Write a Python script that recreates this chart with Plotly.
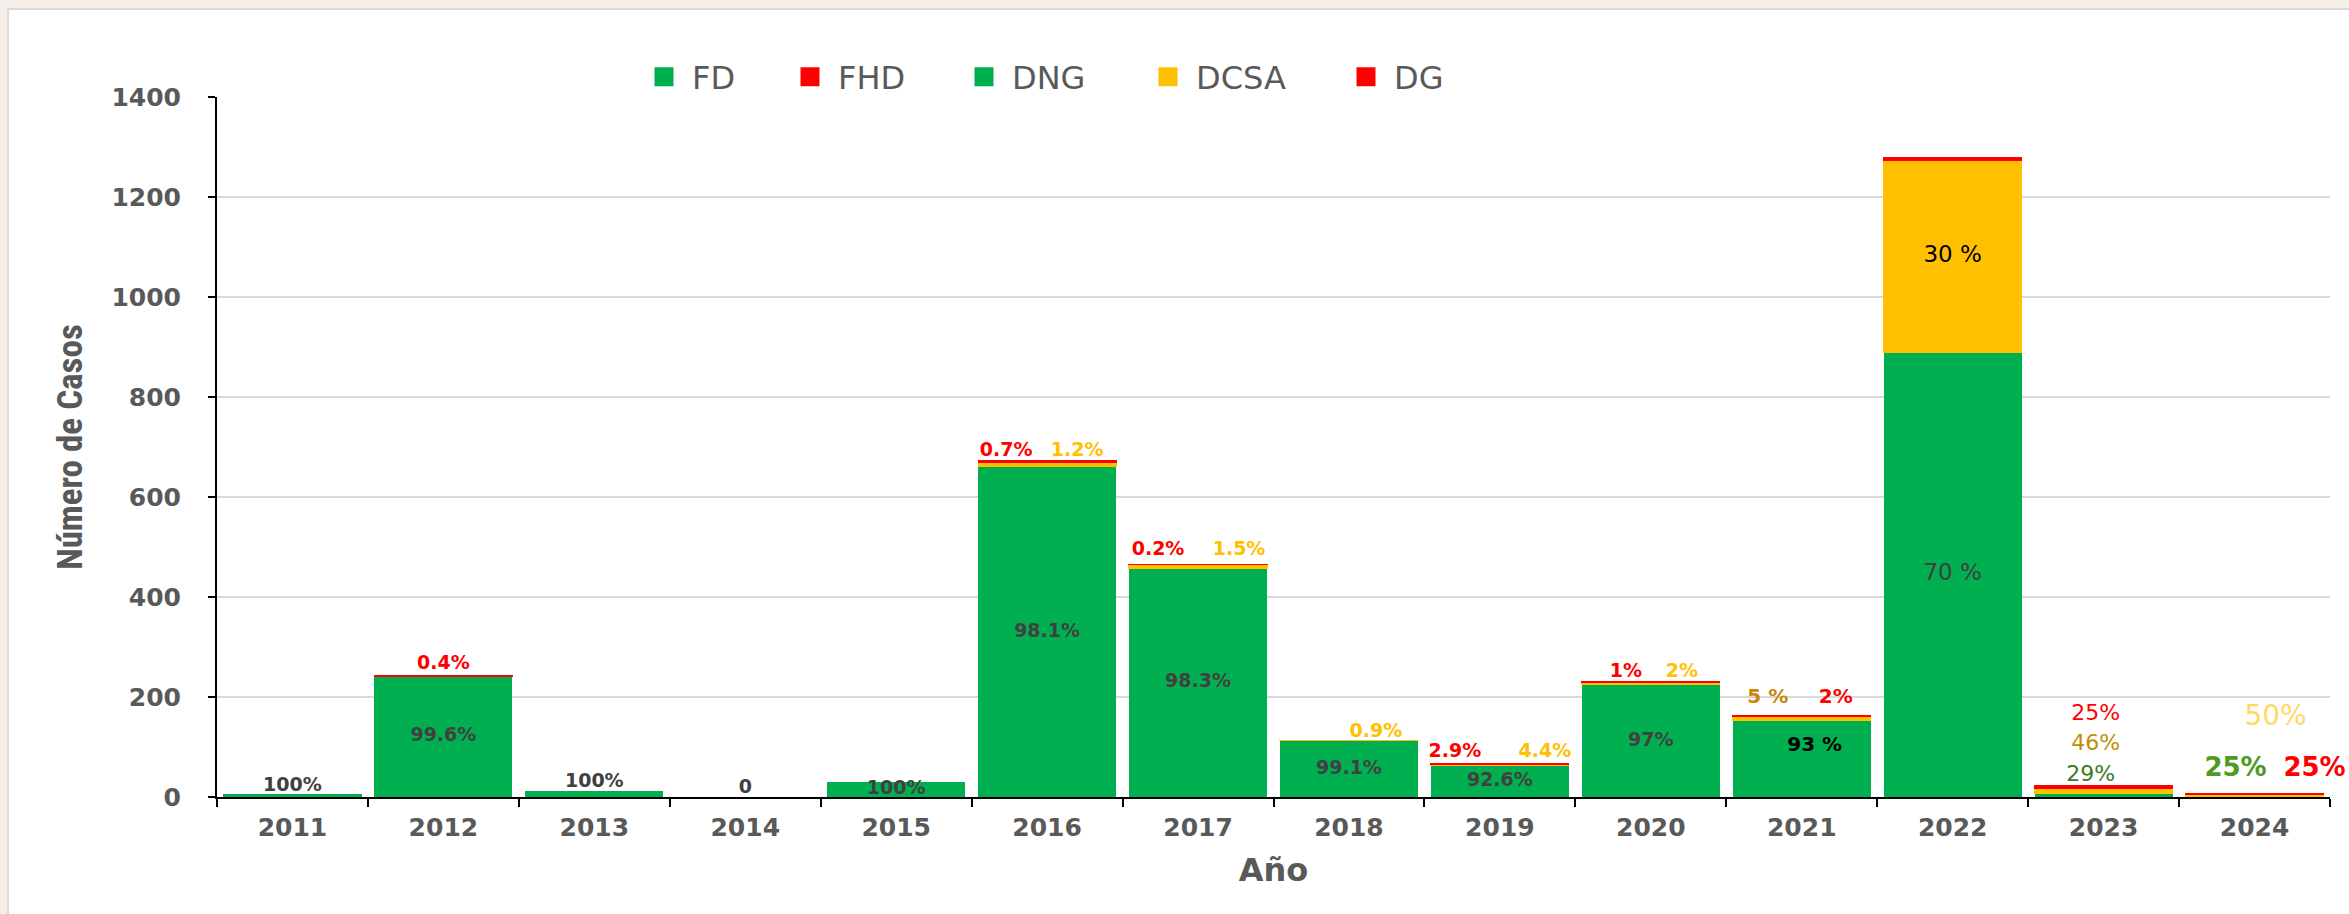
import plotly.graph_objects as go

# ---------------------------------------------------------------- data
years = ["2011", "2012", "2013", "2014", "2015", "2016", "2017",
         "2018", "2019", "2020", "2021", "2022", "2023", "2024"]

# cases per year by classification
fd   = [7, 242, 12, 0, 30, 0, 0, 0, 0, 0, 0, 0, 0, 0]
fhd  = [0, 1, 0, 0, 0, 0, 0, 0, 0, 0, 0, 0, 0, 0]
dng  = [0, 0, 0, 0, 0, 661, 458, 113, 63, 225, 153, 890, 7, 2]
dcsa = [0, 0, 0, 0, 0, 8, 7, 1, 3, 5, 8, 384, 11, 4]
dg   = [0, 0, 0, 0, 0, 5, 1, 0, 2, 2, 3, 5, 6, 2]

# percentage written in the middle of the green segment
green_pct = ["", "99.6%", "", "", "100%", "98.1%", "98.3%",
             "99.1%", "92.6%", "97%", "93 %", "70 %", "", ""]
# percentage written in the middle of the DCSA segment
dcsa_pct = ["", "", "", "", "", "", "", "", "", "", "", "30 %", "", ""]

# percentages written above the bars
top_years = ["2011", "2012", "2013", "2014", "2016", "2016", "2017", "2017",
             "2018", "2019", "2019", "2020", "2020", "2021", "2021",
             "2023", "2023", "2023", "2024", "2024", "2024"]
top_texts = ["100%", "0.4%", "100%", "0", "0.7%", "1.2%", "0.2%", "1.5%",
             "0.9%", "2.9%", "4.4%", "1%", "2%", "5 %", "2%",
             "29%", "46%", "25%", "25%", "50%", "25%"]

# ---------------------------------------------------------------- styling
GREEN, RED, YELLOW = "#00B050", "#FF0000", "#FFC000"
AXIS_GREY = "#595959"
LABEL_GREY = "#404040"
FONT = "DejaVu Sans"

BOLD19 = dict(family=FONT, size=19, weight="bold")
BOLD20 = dict(family=FONT, size=20, weight="bold")
REG22 = dict(family=FONT, size=22)
REG28 = dict(family=FONT, size=28)
BOLD26 = dict(family=FONT, size=26, weight="bold")

# (colour, font, x shift px, height of label centre above bar top px)
top_style = [
    (LABEL_GREY, BOLD19, 0, 7),
    (RED, BOLD19, 0, 11),
    (LABEL_GREY, BOLD19, 0, 9),
    (LABEL_GREY, BOLD19, 0, 9),
    (RED, BOLD19, -41, 9),
    (YELLOW, BOLD19, 30, 9),
    (RED, BOLD19, -40, 14),
    (YELLOW, BOLD19, 41, 14),
    (YELLOW, BOLD19, 27, 8),
    (RED, BOLD19, -45, 11),
    (YELLOW, BOLD19, 45, 11),
    (RED, BOLD19, -25, 9),
    (YELLOW, BOLD19, 31, 9),
    ("#C8860A", BOLD20, -34, 17),
    (RED, BOLD20, 34, 17),
    ("#3B7A1F", REG22, -13, 10),
    ("#BF9000", REG22, -8, 41),
    (RED, REG22, -8, 71),
    ("#4E9A23", BOLD26, -19, 24),
    ("#FFD966", REG28, 21, 75),
    (RED, BOLD26, 60, 24),
]

green_label_style = {"2021": ("#000000", dict(family=FONT, size=20, weight="bold"), 13, 13),
                     "2022": (LABEL_GREY, dict(family=FONT, size=23), 0, 0)}
dcsa_label_style = ("#000000", dict(family=FONT, size=23))

# plot area in pixels
PLOT_L, PLOT_R, PLOT_T, PLOT_B = 217, 2330, 97, 797
PW, PH = PLOT_R - PLOT_L, PLOT_B - PLOT_T
Y_MAX = 1400
PX_PER_CAT = PW / len(years)
UNITS_PER_PX = Y_MAX / PH


def nz(values):
    return [v if v else None for v in values]


xpos = list(range(len(years)))
fig = go.Figure()

series = [
    ("FD", fd, GREEN, 0),
    ("FHD", fhd, RED, 1),
    ("DNG", dng, GREEN, 0),
    ("DCSA", dcsa, YELLOW, 1),
    ("DG", dg, RED, 1),
]
for name, vals, color, lw in series:
    fig.add_trace(go.Bar(
        x=xpos, y=nz(vals), name=name, showlegend=False,
        customdata=years,
        marker=dict(color=color, line=dict(color=color, width=lw)),
        hovertemplate="%{customdata}: %{y}<extra>" + name + "</extra>",
    ))

# legend entries, one legend per entry so each can sit at its own spot
legend_centres = [664, 810, 984, 1168, 1366]
for i, (name, vals, color, lw) in enumerate(series):
    key = "legend" if i == 0 else f"legend{i + 1}"
    fig.add_trace(go.Scatter(
        x=[None], y=[None], mode="markers", name=name, legend=key,
        marker=dict(symbol="square", size=16, color=color,
                    line=dict(color=color, width=3)),
    ))
    fig.update_layout({key: dict(
        orientation="h", x=(legend_centres[i] - 28 - PLOT_L) / PW,
        xanchor="left", y=(PLOT_B - 77) / PH, yanchor="middle",
        itemwidth=46, bgcolor="rgba(0,0,0,0)", borderwidth=0,
        font=dict(family=FONT, size=32, color=AXIS_GREY),
        itemclick=False, itemdoubleclick=False,
    )})

totals = [a + b + c + d + e for a, b, c, d, e in zip(fd, fhd, dng, dcsa, dg)]
green = [a + c for a, c in zip(fd, dng)]


def add_label(xi, yval, text, color, font, dx=0, dy=0):
    """Percentage label centred at (bar xi, value yval), nudged by dx/dy pixels."""
    fig.add_trace(go.Scatter(
        x=[xi + dx / PX_PER_CAT], y=[yval + dy * UNITS_PER_PX],
        mode="text", text=[text], textposition="middle center",
        textfont=dict(color=color, **font),
        showlegend=False, hoverinfo="skip", cliponaxis=False,
    ))


for i, yr in enumerate(years):
    if green_pct[i]:
        color, font, dx, dy = green_label_style.get(yr, (LABEL_GREY, BOLD19, 0, 0))
        add_label(i, green[i] / 2, green_pct[i], color, font, dx, dy)
    if dcsa_pct[i]:
        color, font = dcsa_label_style
        add_label(i, green[i] + dcsa[i] / 2, dcsa_pct[i], color, font)

for yr, txt, (color, font, dx, dy) in zip(top_years, top_texts, top_style):
    i = years.index(yr)
    add_label(i, totals[i], txt, color, font, dx, dy)

fig.update_layout(
    width=2349, height=914,
    margin=dict(l=PLOT_L, r=2349 - PLOT_R, t=PLOT_T, b=914 - PLOT_B, autoexpand=False),
    barmode="stack", bargap=0.085,
    paper_bgcolor="#F4EFE6", plot_bgcolor="#FFFFFF",
    shapes=[dict(type="rect", xref="paper", yref="paper",
                 x0=(8 - PLOT_L) / PW, x1=1.2,
                 y0=-0.5, y1=(PLOT_B - 9) / PH,
                 line=dict(color="#D9D9D9", width=2),
                 fillcolor="#FFFFFF", layer="below")],
    xaxis=dict(
        range=[-0.5, len(years) - 0.5],
        tickmode="array", tickvals=xpos, ticktext=years, ticks="",
        minor=dict(tickmode="array", tickvals=[i - 0.5 for i in range(len(years) + 1)],
                   ticks="outside", ticklen=8, tickwidth=2, tickcolor="#000000",
                   showgrid=False),
        showline=True, linecolor="#000000", linewidth=2,
        ticklabelstandoff=7,
        tickfont=dict(family=FONT, size=25, color=AXIS_GREY, weight="bold"),
        title=dict(text="Año", standoff=18,
                   font=dict(family=FONT, size=32, color=AXIS_GREY, weight="bold")),
        showgrid=False, zeroline=False,
    ),
    yaxis=dict(
        range=[0, Y_MAX], dtick=200,
        showline=True, linecolor="#000000", linewidth=2,
        ticks="outside", ticklen=7, tickwidth=2, tickcolor="#000000",
        ticklabelstandoff=22,
        tickfont=dict(family=FONT, size=25, color=AXIS_GREY, weight="bold"),
        showgrid=True, gridcolor="#D9D9D9", gridwidth=1.5, zeroline=False,
        title=dict(text="Número de Casos", standoff=18,
                   font=dict(family="Liberation Sans Narrow, Roboto Condensed, Lato",
                             size=35, color=AXIS_GREY, weight="bold")),
    ),
)

fig.write_html("out.html")
